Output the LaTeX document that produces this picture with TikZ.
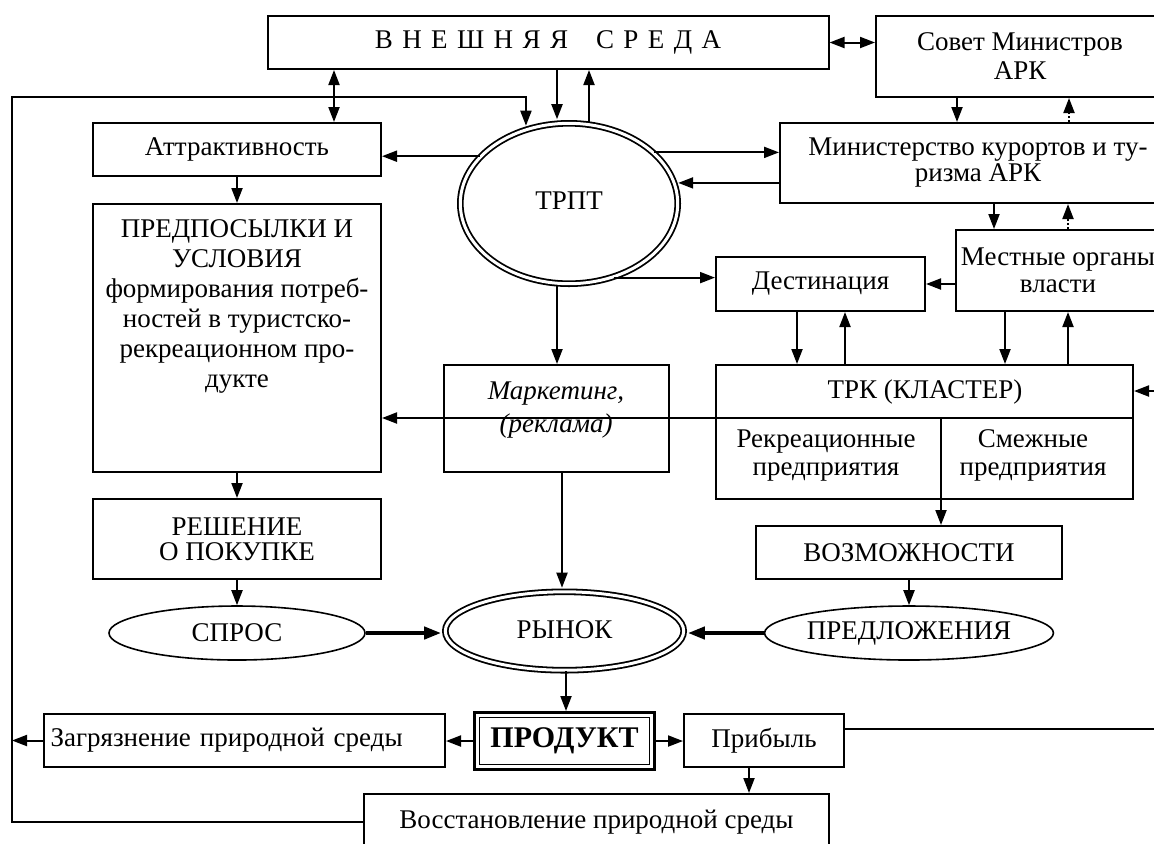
\documentclass[tikz,border=0pt]{standalone}
\usepackage{fontspec}
\setmainfont{Liberation Serif}
\usetikzlibrary{arrows.meta,calc,shapes.geometric}
\newcommand{\lsp}{\hspace{4.7pt}}
\begin{document}
\begin{tikzpicture}[x=0.5pt,y=-0.5pt,
  font=\fontsize{13.5}{15}\selectfont,
  box/.style={draw,line width=1pt,inner sep=0pt,align=center},
  oval/.style={draw,ellipse,line width=0.8pt,inner sep=0pt},
  dbl/.style={draw,ellipse,double,double distance=1.5pt,line width=0.9pt,inner sep=0pt},
  arr/.style={line width=1pt,-{Triangle[length=7.5pt,width=5.5pt]}},
  darr/.style={line width=1pt,{Triangle[length=7.5pt,width=5.5pt]}-{Triangle[length=7.5pt,width=5.5pt]}},
  tarr/.style={line width=2pt,-{Triangle[length=8.5pt,width=6pt]}},
  toell/.style={shorten >=1.6pt},
  ln/.style={line width=1pt}]
\useasboundingbox (0,0) rectangle (1154,843);

% boxes
\node[box,minimum width=280.5pt,minimum height=26.5pt] (vn) at (548,42.5)
  {В\lsp Н\lsp Е\lsp Ш\lsp Н\lsp Я\lsp Я\hspace{14pt}С\lsp Р\lsp Е\lsp Д\lsp А};
\node[box,minimum width=144pt,minimum height=40.5pt,font=\fontsize{13.5}{14.5}\selectfont] (sov) at (1020,56.5) {Совет Министров\\АРК};
\node[box,minimum width=198pt,minimum height=40pt,font=\fontsize{13.5}{13}\selectfont] (min) at (978,163) {Министерство курортов и ту-\\ризма АРК};
\node[box,minimum width=102pt,minimum height=40.5pt,font=\fontsize{13.5}{13.3}\selectfont] (mest) at (1058,270.5) {Местные органы\\власти};
\node[box,minimum width=104.5pt,minimum height=27pt] (dest) at (820.5,284) {Дестинация};
\node[box,minimum width=144pt,minimum height=26.5pt] (attr) at (237,149.5) {Аттрактивность};
\node[box,minimum width=144pt,minimum height=134pt] (pred) at (237,338) {};
\node[align=center,inner sep=0pt,font=\fontsize{13.5}{15}\selectfont] (predt) at (237,306)
  {ПРЕДПОСЫЛКИ И\\УСЛОВИЯ\\формирования потреб-\\ностей в туристско-\\рекреационном про-\\дукте};
\node[box,minimum width=144pt,minimum height=40pt,font=\fontsize{13.5}{12.5}\selectfont] (resh) at (237,539) {РЕШЕНИЕ\\О ПОКУПКЕ};
\node[box,minimum width=112.5pt,minimum height=53.5pt] (mark) at (556.5,418.5) {};
\node[align=center,inner sep=0pt,font=\fontsize{13.5}{16.5}\selectfont\itshape] (markt) at (556,410) {Маркетинг,\\(реклама)};
\node[box,minimum width=208.5pt,minimum height=67pt] (trk) at (924.5,432) {};
\node[inner sep=0pt] (trkt) at (925,392) {ТРК (КЛАСТЕР)};
\node[align=center,inner sep=0pt,font=\fontsize{13.5}{13.8}\selectfont] (rek) at (826,455.5) {Рекреационные\\предприятия};
\node[align=center,inner sep=0pt,font=\fontsize{13.5}{13.8}\selectfont] (smezh) at (1033,455.5) {Смежные\\предприятия};
\node[box,minimum width=153pt,minimum height=26.5pt] (voz) at (909,552.5) {ВОЗМОЖНОСТИ};

% ellipses
\node[dbl,minimum width=108.7pt,minimum height=80.2pt] (trpt) at (569,203.5) {\raisebox{2.5pt}{ТРПТ}};
\node[oval,minimum width=128pt,minimum height=27pt] (spros) at (237,633) {СПРОС};
\node[dbl,minimum width=119.2pt,minimum height=39.2pt] (rynok) at (564.5,631) {\raisebox{1.5pt}{РЫНОК}};
\node[oval,minimum width=144pt,minimum height=27pt] (predl) at (909,633) {ПРЕДЛОЖЕНИЯ};

% bottom row
\node[draw,line width=1.6pt,minimum width=89.9pt,minimum height=28.4pt,inner sep=0pt,font=\fontsize{15}{15}\selectfont\bfseries] (prod) at (564.5,741) {ПРОДУКТ};
\draw[line width=0.9pt] ($(prod.north west)+(6.5,6.5)$) rectangle ($(prod.south east)+(-6.5,-6.5)$);
\node[box,minimum width=200.5pt,minimum height=26.5pt,text width=194pt,align=left,inner xsep=3pt] (zag) at (244.5,740.5) {Загрязнение природной среды};
\node[box,minimum width=80pt,minimum height=26.5pt] (prib) at (764,740.5) {Прибыль};
\node[box,minimum width=232.5pt,minimum height=28pt] (vos) at (596.5,822) {Восстановление природной среды};

% inner dividers of TRK
\draw[ln] (trk.west |- 0,418) -- (trk.east |- 0,418);
\draw[ln] (941,418) -- (941,0 |- trk.south);

% connectors
\coordinate (fb) at (12,97);
\coordinate (re) at (1154,391);
\coordinate (re2) at (1154,729);
\draw[darr] (vn.east) -- (sov.west |- vn.east);
\draw[darr] (334,0 |- vn.south) -- (334,0 |- attr.north);
\draw[arr,toell] (vos.west) -| (fb) -| (trpt.120);
\draw[arr,toell] (557,0 |- vn.south) -- (557,0 |- trpt.north);
\draw[arr] (589,0 |- trpt.north) -- (589,0 |- vn.south);
\draw[arr] (trpt.152.7) -- (trpt.152.7 -| attr.east);
\draw[arr] (trpt.31.9) -- (trpt.31.9 -| min.west);
\draw[arr,toell] (min.west |- trpt.11.2) -- (trpt.11.2);
\draw[arr] (trpt.-59.6) -- (trpt.-59.6 -| dest.west);
\draw[arr] (557,0 |- trpt.south) -- (557,0 |- mark.north);
\draw[arr] (957,0 |- sov.south) -- (957,0 |- min.north);
\draw[arr,densely dotted] (1069,0 |- min.north) -- (1069,0 |- sov.south);
\draw[arr] (994,0 |- min.south) -- (994,0 |- mest.north);
\draw[arr,densely dotted] (1068,0 |- mest.north) -- (1068,0 |- min.south);
\draw[arr] (mest.west |- dest.east) -- (dest.east);
\draw[arr] (797,0 |- dest.south) -- (797,0 |- trk.north);
\draw[arr] (845,0 |- trk.north) -- (845,0 |- dest.south);
\draw[arr] (1005,0 |- mest.south) -- (1005,0 |- trk.north);
\draw[arr] (1068,0 |- trk.north) -- (1068,0 |- mest.south);
\draw[arr] (re) -- (re -| trk.east);
\draw[arr] (trk.west |- 0,418) -- (pred.east |- 0,418);
\draw[arr] (attr.south) -- (pred.north);
\draw[arr] (pred.south) -- (resh.north);
\draw[arr] (resh.south) -- (spros.north);
\draw[arr] (941,0 |- trk.south) -- (941,0 |- voz.north);
\draw[arr] (voz.south) -- (predl.north);
\draw[tarr,toell] (spros.east) -- (spros.east -| rynok.west);
\draw[tarr,toell] (predl.west) -- (predl.west -| rynok.east);
\draw[arr,toell] (562,0 |- mark.south) -- (562,0 |- rynok.north);
\draw[arr] (566,0 |- rynok.south) -- (566,0 |- prod.north);
\draw[arr] (prod.west) -- (prod.west -| zag.east);
\draw[arr] (prod.east) -- (prod.east -| prib.west);
\draw[arr] (749,0 |- prib.south) -- (749,0 |- vos.north);
\draw[arr] (zag.west) -- (zag.west -| fb);
\draw[ln] (prib.east |- re2) -- (re2);
\end{tikzpicture}
\end{document}
